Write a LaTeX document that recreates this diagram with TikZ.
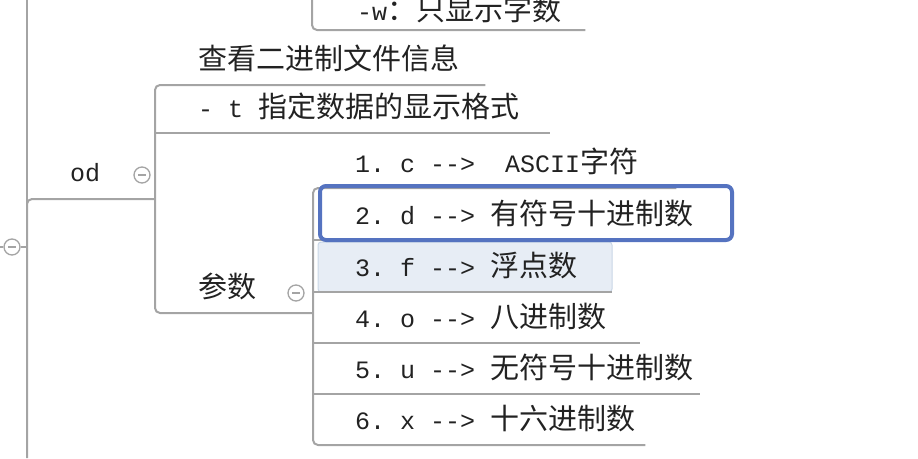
\documentclass[tikz,border=0pt]{standalone}
\usepackage{fontspec}
\setmonofont{Liberation Mono}
\newfontfamily\cjkfont{Noto Sans CJK SC}
\usetikzlibrary{positioning, calc}
\definecolor{linie}{HTML}{A4A4A4}
\definecolor{schrift}{HTML}{222222}
\definecolor{auswahl}{HTML}{5573C0}
\definecolor{schwebfill}{HTML}{E7EDF5}
\definecolor{schwebrand}{HTML}{C9D6E6}
\newcommand\zh[1]{{\cjkfont\fontsize{29}{30}\selectfont #1}}
\newcommand\lz{\hspace{0.6em}}
\tikzset{
  thema/.style={anchor=south west, inner xsep=0pt, inner ysep=0pt, text width=#1, align=left,
                minimum height=52pt, text=schrift, font=\ttfamily\fontsize{25}{30}\selectfont},
  zweig/.style={draw=linie, line width=2pt, rounded corners=5pt},
  knopf/.style={circle, draw=linie, line width=1.3pt, minimum size=16pt, inner sep=0pt, fill=white,
                path picture={\draw[linie, line width=1.3pt]
                  ([xshift=-4pt]path picture bounding box.center) -- ([xshift=4pt]path picture bounding box.center);}},
  markiert/.style={draw=auswahl, line width=4pt, rounded corners=6pt},
  schwebe/.style={draw=schwebrand, fill=schwebfill, line width=1pt, rounded corners=3pt}
}
\begin{document}
\begin{tikzpicture}[x=1pt, y=-1pt]
  \useasboundingbox (0,0) rectangle (918,458);
  \coordinate (oben) at (27,0);
  \coordinate (unten) at (27,458);
  \coordinate (wurzel) at (0,247);
  \coordinate (woben) at (312,0);
  % hover
  \draw [schwebe] (318,242) rectangle (612,292);
  \node (w) [thema=273pt, minimum height=40pt] at (312,30) {\hspace*{45pt}-w\zh{：只显示字数}};
  \node (od) [thema=128pt] at (27,199) {\hspace*{43pt}od};
  \node (info) [thema=330pt] at (155,85) {\hspace*{43pt}\zh{查看二进制文件信息}};
  \node (tfmt) [thema=395pt] at (155,133) {\hspace*{43pt}-\lz t\lz \zh{指定数据的显示格式}};
  \node (param) [thema=158pt] at (155,313) {\hspace*{43pt}\zh{参数}};
  \node (c1) [thema=363pt] at (313,188) {\hspace*{42pt}1.\lz c\lz -{}->\lz\lz ASCII\zh{字符}};
  \node (c2) [thema=417pt] at (313,240) {\hspace*{42pt}2.\lz d\lz -{}->\lz \zh{有符号十进制数}};
  \node (c3) [thema=299pt] at (313,292) {\hspace*{42pt}3.\lz f\lz -{}->\lz \zh{浮点数}};
  \node (c4) [thema=327pt] at (313,343) {\hspace*{42pt}4.\lz o\lz -{}->\lz \zh{八进制数}};
  \node (c5) [thema=387pt] at (313,394) {\hspace*{42pt}5.\lz u\lz -{}->\lz \zh{无符号十进制数}};
  \node (c6) [thema=332pt] at (313,445) {\hspace*{42pt}6.\lz x\lz -{}->\lz \zh{十六进制数}};
  \node (k0) [knopf] at (12,247) {};
  \node (kod) [knopf] at (142,175) {};
  \node (kparam) [knopf] at (296,293) {};
  \draw [zweig] (oben) -- (unten);
  \draw [zweig] (unten) -- (od.south west) -- (od.south east);
  \draw [zweig] (wurzel) -- (k0.west);
  \draw [zweig] (k0.east) -- (k0.east -| oben);
  \draw [zweig] (woben) -- (w.south west) -- (w.south east);
  \draw [zweig] (info.south east) -- (info.south west) -- (param.south west) -- (param.south east);
  \draw [zweig] (tfmt.south west) -- (tfmt.south east);
  \draw [zweig] (c1.south east) -- (c1.south west) -- (c6.south west) -- (c6.south east);
  \foreach \k in {2,...,5}
    \draw [zweig] (c\k.south west) -- (c\k.south east);
  % auswahl
  \draw [markiert] (320,186) rectangle (732,240);
\end{tikzpicture}
\end{document}
